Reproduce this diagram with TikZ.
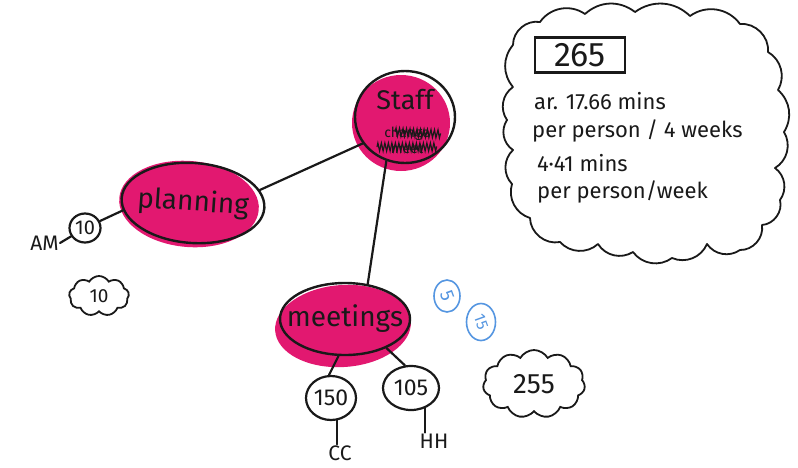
\documentclass[tikz,border=0pt]{standalone}
\usepackage{fontspec}
\setmainfont{Fira Sans}
\usetikzlibrary{shapes.geometric,shapes.symbols,decorations.pathmorphing}
\definecolor{ink}{RGB}{25,25,25}
\definecolor{hot}{RGB}{226,24,112}
\definecolor{pen}{RGB}{85,150,225}
\tikzset{
  every node/.style={text=ink},
  topic/.style={ellipse, draw=ink, line width=2.4pt, inner sep=0pt},
  topiclabel/.style={font=\fontsize{28}{30}\selectfont, inner sep=0pt},
  blob/.style={fill=hot},
  num/.style={ellipse, draw=ink, line width=2.2pt, inner sep=0pt, font=\fontsize{23}{25}\selectfont},
  tag/.style={font=\fontsize{21}{23}\selectfont, inner sep=1pt},
  link/.style={draw=ink, line width=2.2pt, line cap=round},
  puff/.style={cloud, cloud ignores aspect, draw=ink, line width=1.8pt, cloud puffs=#1, cloud puff arc=120, inner sep=0pt},
  cloudline/.style={draw=ink, line width=1.8pt, line join=round},
  bluering/.style={ellipse, draw=pen, line width=1.6pt, text=pen, inner sep=0pt},
  note/.style={font=\fontsize{22}{24}\selectfont, anchor=west, inner sep=0pt},
  scribble/.style={draw=ink, line width=1.2pt, decorate, decoration={zigzag, segment length=3.5pt, amplitude=4pt}}
}
\begin{document}
\begin{tikzpicture}[x=1pt,y=-1pt]
\useasboundingbox (0,0) rectangle (798,467);
\fill[white] (0,0) rectangle (798,467);

% marker fills under the outlines
\fill[blob, rotate around={-5:(189,204)}] (189,204) ellipse [x radius=70, y radius=43];
\fill[blob] (401,123) ellipse [x radius=49, y radius=48];
\fill[blob, rotate around={4:(343,326)}] (343,326) ellipse [x radius=68, y radius=41];

% topic outlines
\node[topic, minimum width=100pt, minimum height=92pt] (staff) at (405,117) {};
\node[font=\fontsize{27}{29}\selectfont, inner sep=0pt] (stafflabel) at (405,100) {Staff};
\node[font=\fontsize{14}{16}\selectfont, align=center, inner sep=0pt] (crossed) at (407,140) {change\\meet};
\draw[scribble] ([xshift=-30pt,yshift=-7pt]crossed.center) -- ([xshift=30pt,yshift=-7pt]crossed.center);
\draw[scribble] ([xshift=-12pt,yshift=8pt]crossed.center) -- ([xshift=34pt,yshift=6pt]crossed.center);
\node[topic, minimum width=143pt, minimum height=80pt, rotate=-4,
      label={[topiclabel, rotate=-4]center:planning}] (planning) at (193,203) {};
\node[topic, minimum width=130pt, minimum height=72pt,
      label={[topiclabel]center:meetings}] (meetings) at (345,319) {};

% amounts
\node[num, minimum width=31pt, minimum height=29pt, font=\fontsize{20}{22}\selectfont] (ten) at (85,228) {10};
\node[tag, anchor=east] (am) at (60,243) {AM};
\node[num, minimum width=50pt, minimum height=44pt] (c150) at (331,398) {150};
\node[num, minimum width=56pt, minimum height=44pt] (c105) at (411,388) {105};
\node[tag] (cc) at (340,453) {CC};
\node[tag] (hh) at (434,441) {HH};

% connectors
\draw[link] (planning.15) -- (staff.212);
\draw[link] (staff.-113) -- (meetings.57);
\draw[link] (ten) -- (planning.190);
\draw[link] (am.east) -- (ten);
\draw[link] (meetings.-100) -- (c150.95);
\draw[link] (meetings.-35) -- (c105.105);
\draw[link] (c150.-75) -- (c150.-75 |- cc.north);
\draw[link] (c105.-55) -- (c105.-55 |- hh.north);

% totals in clouds
\node[puff=9, minimum width=60pt, minimum height=40pt, font=\fontsize{19}{20}\selectfont] (total10) at (99,296) {10};
\node[puff=11, minimum width=102pt, minimum height=68pt, font=\fontsize{28}{30}\selectfont] (total255) at (534,384) {255};

% blue pen marks
\node[bluering, minimum width=26pt, minimum height=32pt, font=\fontsize{19}{20}\selectfont] (b1) at (447,296) {\rotatebox{-70}{5}};
\node[bluering, minimum width=29pt, minimum height=37pt, font=\fontsize{16}{17}\selectfont] (b2) at (481,322) {\rotatebox{-70}{15}};

% summary cloud, drawn puff by puff
\draw[cloudline] (513,45)
  to[bend left=50] (540,22) to[bend left=45] (585,14) to[bend left=40] (635,12)
  to[bend left=40] (690,16) to[bend left=45] (740,24) to[bend left=50] (768,52)
  to[bend left=45] (778,90) to[bend left=40] (784,132) to[bend left=45] (775,168)
  to[bend left=45] (780,200) to[bend left=50] (762,225) to[bend left=50] (740,250)
  to[bend left=45] (707,244) to[bend left=45] (672,258) to[bend left=45] (633,252)
  to[bend left=45] (598,244) to[bend left=45] (560,242) to[bend left=50] (530,218)
  to[bend left=45] (512,184) to[bend left=45] (513,150) to[bend left=45] (507,120)
  to[bend left=45] (513,87) to[bend left=40] (513,45);
\node[draw=ink, line width=2.2pt, minimum width=90pt, minimum height=35pt, inner sep=0pt,
      font=\fontsize{34}{36}\selectfont] (grand) at (580,55) {265};
\node[note] (l1) at (534,101) {ar. 17.66 mins};
\node[note] (l2) at (532,131) {per person / 4 weeks};
\node[note] (l3) at (537,163) {4·41 mins};
\node[note] (l4) at (537,192) {per person/week};
\end{tikzpicture}
\end{document}
